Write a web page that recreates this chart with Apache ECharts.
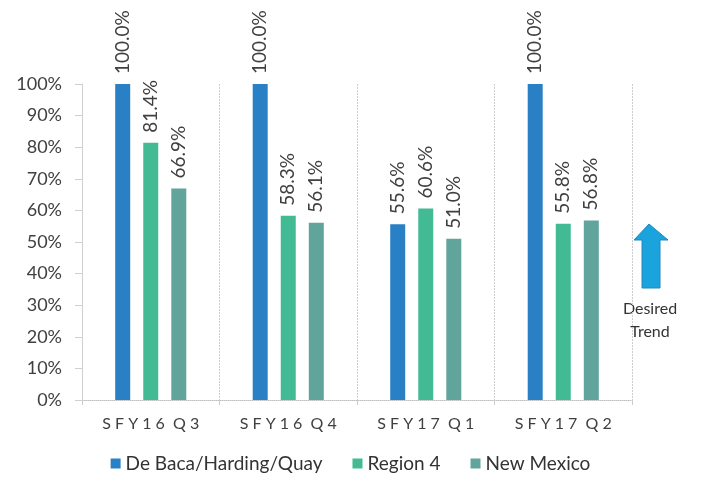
<!DOCTYPE html>
<html>
<head>
<meta charset="utf-8">
<script src="https://cdn.jsdelivr.net/npm/echarts@6/dist/echarts.min.js"></script>
<style>html,body{margin:0;padding:0;background:#fff;}#c{width:701px;height:478px;}</style>
</head>
<body>
<div id="c"></div>
<script>
var categories = ['SFY16 Q3', 'SFY16 Q4', 'SFY17 Q1', 'SFY17 Q2'];
var seriesNames = ['De Baca/Harding/Quay', 'Region 4', 'New Mexico'];
var deBaca = [100.0, 100.0, 55.6, 100.0];
var region4 = [81.4, 58.3, 60.6, 55.8];
var newMexico = [66.9, 56.1, 51.0, 56.8];
var yTicks = [0, 10, 20, 30, 40, 50, 60, 70, 80, 90, 100];
var colors = ['#2A80C5', '#42BA93', '#61A49C'];
var FONT = 'Lato, "Open Sans", sans-serif';

var chart = echarts.init(document.getElementById('c'));
function spaced(s) {
  return s.split(' ').map(function (w) { return w.split('').join(' '); }).join('  ');
}
function mk(name, data, color) {
  return {
    name: name, type: 'bar', data: data, barWidth: 15, barGap: '87%',
    itemStyle: { color: color },
    label: {
      show: true, position: 'top', rotate: 90, align: 'left', verticalAlign: 'middle',
      distance: 10, color: '#404040', fontFamily: FONT, fontSize: 19,
      formatter: function (p) { return p.value.toFixed(1) + '%'; }
    }
  };
}
chart.setOption({
  animation: false,
  grid: { left: 82, right: 69, top: 84, bottom: 78, containLabel: false },
  legend: {
    bottom: 0, left: 'center', icon: 'rect', itemWidth: 10, itemHeight: 10, itemGap: 30,
    textStyle: { fontFamily: FONT, fontSize: 19, color: '#333' },
    data: seriesNames
  },
  xAxis: {
    type: 'category', data: categories,
    axisLine: { lineStyle: { color: '#bfbfbf', type: 'dotted' } },
    axisTick: { show: true, length: 5, lineStyle: { color: '#cccccc' } },
    splitLine: { show: true, lineStyle: { color: '#cccccc', type: [2, 1] } },
    axisLabel: { fontFamily: FONT, fontSize: 16, color: '#404040', margin: 16, formatter: spaced }
  },
  yAxis: {
    type: 'value', min: 0, max: 100, interval: 10,
    axisLine: { show: true, lineStyle: { color: '#d0d0d0' } },
    axisTick: { show: true, length: 7, lineStyle: { color: '#d0d0d0' } },
    splitLine: { show: false },
    axisLabel: { fontFamily: FONT, fontSize: 18, color: '#404040', margin: 20,
      formatter: function (v) { return yTicks.indexOf(v) >= 0 ? v + '%' : ''; } }
  },
  series: [mk(seriesNames[0], deBaca, colors[0]), mk(seriesNames[1], region4, colors[1]), mk(seriesNames[2], newMexico, colors[2])],
  graphic: [
    { type: 'polygon', shape: { points: [[649, 224], [668, 240], [660, 240], [660, 288], [642, 288], [642, 240], [634, 240]] },
      style: { fill: '#1AA3DD', stroke: '#2288bb', lineWidth: 1 } },
    { type: 'text', x: 650, y: 297, style: { text: 'Desired\nTrend', fill: '#333', fontFamily: FONT, fontSize: 16, align: 'center', verticalAlign: 'top', lineHeight: 23 } }
  ]
});
</script>
</body>
</html>
